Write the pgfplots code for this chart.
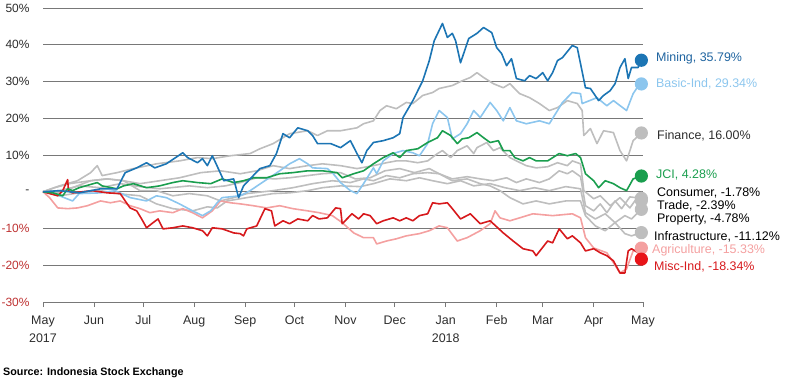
\documentclass[border=0pt]{standalone}
\usepackage{pgfplots}
\pgfplotsset{compat=1.18}
\usepackage{fontspec}
\setmainfont{Liberation Sans}
\definecolor{cMining}{RGB}{28,117,180}
\definecolor{cMiningT}{RGB}{31,100,160}
\definecolor{cBasic}{RGB}{140,198,238}
\definecolor{cGray}{RGB}{190,190,190}
\definecolor{cJCI}{RGB}{26,158,78}
\definecolor{cAgri}{RGB}{244,160,160}
\definecolor{cMisc}{RGB}{215,25,28}
\definecolor{cMiscDot}{RGB}{232,20,25}
\definecolor{cNeg}{RGB}{190,50,50}
\definecolor{cTxt}{RGB}{45,45,45}
\definecolor{cGrid}{RGB}{120,120,120}
\begin{document}
\begin{tikzpicture}
\path[use as bounding box] (0,0) rectangle (787bp,379bp);
\begin{axis}[
  at={(43bp,77bp)}, anchor=south west,
  scale only axis, width=600bp, height=294bp,
  xmin=0, xmax=365, ymin=-30, ymax=50,
  enlargelimits=false, clip=false,
  axis x line*=bottom, axis y line*=left,
  axis line style={-},
  x axis line style={draw=cGrid, line width=0.7bp},
  y axis line style={draw=none},
  ytick={-30,-20,-10,0,10,20,30,40,50},
  yticklabels={\textcolor{cNeg}{-30\%},\textcolor{cNeg}{-20\%},\textcolor{cNeg}{-10\%},-,10\%,20\%,30\%,40\%,50\%},
  ytick style={draw=none},
  ymajorgrids, grid style={draw=cGrid, line width=0.6bp},
  xtick={0,31,61,92,123,153,184,214,245,276,304,335,365},
  xticklabels={{May\\2017},Jun,Jul,Aug,Sep,Oct,Nov,Dec,{Jan\\2018},Feb,Mar,Apr,May},
  xtick style={draw=cGrid, line width=0.7bp},
  tick align=outside, major tick length=5bp,
  tick label style={font=\fontsize{12.5}{18}\selectfont, text=cTxt},
  xticklabel style={align=center, yshift=-5bp},
  yticklabel style={xshift=-5bp, font=\fontsize{12}{14}\selectfont},
  every axis plot/.append style={line width=1.6bp, line join=round, no markers},
]
% Gray sectors
\addplot[cGray] coordinates {(0,0)(7,1.1)(16,2.2)(29,3)(39,3.5)(49,3)(59,2.2)(71,3)(83,3.8)(96,5.2)(108,5.7)(120,4.9)(130,5.7)(140,7.1)(150,6.3)(161,7.1)(170,7.6)(181,7.1)(191,6.3)(201,7.1)(209,7.9)(215,8.4)(221,8.4)(228,7.9)(234,8.4)(240,10.4)(243,11.2)(248,9.3)(252,11.2)(258,12.5)(262,10.4)(264,12)(270,13.4)(274,11.2)(278,12)(284,9.3)(288,8.4)(294,7.1)(300,6.5)(307,6.8)(313,7.9)(319,7.1)(322,8.4)(327,7.6)(329,0.3)(335,-1.9)(339,-1.1)(345,-3.8)(351,-1.6)(357,-4.4)(361,-1.9)(364,-2.39)};
\addplot[cGray] coordinates {(0,0)(10,-0.3)(18,1.1)(29,3)(39,3.5)(49,3)(59,0.3)(69,0.3)(79,-1.1)(89,-0.5)(100,-1.1)(108,-2.5)(116,-1.6)(124,-0.5)(140,0.3)(152,1.1)(164,2.2)(176,3)(187,2.5)(195,3.5)(201,3)(209,4.4)(217,3.8)(225,4.9)(234,5.2)(241,4.9)(249,3.5)(258,4.1)(266,3.5)(274,3)(282,3.8)(288,2.5)(294,3.5)(302,2.5)(308,3.5)(314,5.7)(319,4.9)(322,5.7)(327,4.1)(330,-3.8)(335,-5.2)(339,-3.3)(343,-5.7)(348,-2.5)(352,-4.6)(357,-1.4)(364,-1.78)};
\addplot[cGray] coordinates {(0,0)(10,-1.1)(22,-0.3)(35,0.3)(45,-0.5)(59,-1.1)(69,-3.3)(79,-4.6)(91,-5.2)(100,-4.1)(106,-4.4)(112,-2.5)(124,-1.6)(140,-0.5)(150,-0.3)(161,0.3)(170,1.1)(181,1.6)(193,1.4)(201,2.2)(211,3.5)(221,3)(229,3.8)(237,3)(246,2.2)(254,3)(262,1.6)(272,2.2)(281,1.1)(290,0.3)(299,1.1)(308,0.3)(318,1.4)(327,0.8)(330,-5.7)(336,-7.4)(342,-6)(348,-8.4)(354,-6.5)(358,-7.4)(364,-4.78)};
\addplot[cGray] coordinates {(0,0)(10,0.3)(22,1.6)(35,1.1)(47,2.2)(59,1.4)(71,0.8)(89,1.6)(100,1.1)(111,1.6)(120,2.5)(130,3.8)(141,3.5)(150,3.8)(161,4.4)(170,4.9)(181,5.2)(190,3.5)(199,3.8)(208,5.7)(217,6.3)(226,5.2)(235,6.3)(241,4.9)(249,3)(258,3.5)(266,2.2)(272,1.6)(278,0.3)(284,-1.6)(292,-3.3)(300,-2.5)(308,-3.3)(318,-2.5)(327,-2.5)(330,-6.5)(336,-9.3)(342,-10.6)(348,-8.4)(354,-11.4)(358,-12)(364,-11.12)};
\addplot[cGray] coordinates {(0,0)(10,1.6)(21,3)(29,5.2)(33,7.1)(36,4.4)(45,5.2)(55,6.3)(69,7.6)(83,8.4)(94,9.3)(103,9)(114,9.8)(126,10.4)(132,11.7)(140,13.1)(150,15.8)(161,16.6)(167,15.3)(173,16.6)(181,16.6)(191,17.4)(195,18.5)(201,19.3)(205,22.1)(209,23.4)(215,22.6)(221,24.3)(225,24)(231,26.2)(237,27)(241,28.1)(249,28.9)(255,30.2)(260,31.1)(264,32.4)(268,31.1)(274,29.4)(280,28.3)(284,29.4)(290,26.7)(296,25.6)(302,24)(308,22.1)(313,22.9)(319,24.8)(325,24)(328,22.1)(329,15.3)(333,17.2)(337,13.1)(341,16.6)(347,16.1)(351,11.2)(355,8.4)(359,13.9)(364,16)};
% Agriculture
\addplot[cAgri] coordinates {(0,0)(4,-1.6)(9,-4.4)(15,-4.6)(21,-4.4)(27,-3.8)(35,-2.5)(41,-3)(47,-2.5)(53,-3.8)(59,-4.6)(65,-5.7)(71,-5.2)(79,-5.7)(85,-4.6)(91,-5.7)(97,-7.1)(103,-5.2)(108,-2.5)(114,-3)(120,-3.3)(128,-3.8)(136,-4.4)(144,-3.8)(152,-4.6)(161,-5.2)(168,-5.7)(176,-6.5)(182,-8.4)(189,-11.2)(195,-12.5)(201,-12.5)(203,-14.2)(209,-13.4)(215,-12.8)(221,-12)(229,-11.4)(235,-10.6)(241,-9.3)(246,-9.8)(252,-13.4)(258,-12.5)(266,-10.6)(272,-8.7)(275,-5.2)(278,-7.1)(284,-7.9)(290,-7.1)(298,-6)(310,-6.5)(322,-6)(327,-7.1)(330,-12.5)(335,-15.3)(343,-16.6)(347,-19.3)(351,-22.1)(355,-21)(359,-16.1)(364,-15.33)};
% Basic-Ind
\addplot[cBasic] coordinates {(0,0)(7,-0.5)(10,-1.1)(18,-2.5)(22,-0.5)(35,-0.3)(44,0.3)(53,-1.6)(63,-2.5)(69,-1.1)(75,-1.6)(83,-3.3)(91,-5.2)(97,-6.5)(102,-5.2)(106,-3)(109,-1.6)(120,-1.1)(126,0.3)(135,3)(144,5.7)(150,7.6)(156,9)(161,7.6)(164,6.5)(173,6.3)(176,5.2)(181,2.5)(187,0.3)(191,-0.5)(195,2.2)(201,6.5)(203,4.9)(207,8.4)(213,10.4)(219,11.2)(225,10.6)(229,9.8)(234,13.1)(237,18.5)(241,22.1)(246,20.2)(249,14.4)(254,15.8)(258,18.5)(262,22.1)(266,20.2)(272,24.3)(276,22.1)(280,19.3)(284,22.9)(288,19.3)(294,18.5)(302,19.3)(308,18.5)(313,22.1)(316,24.3)(322,27)(327,26.7)(328,24)(337,25.6)(343,23.4)(347,24.8)(355,22.1)(359,26.7)(363,29.4)(364,29.34)};
% Misc-Ind
\addplot[cMisc] coordinates {(0,0)(9,-1.1)(12,0.3)(15,3.3)(15.5,0.3)(18,-0.3)(30,0.3)(39,-0.3)(47,-0.5)(50,-2.5)(53,-4.4)(57,-5.2)(60,-7.4)(63,-9.8)(67,-8.4)(70,-7.4)(73,-10.1)(79,-9.8)(85,-9.3)(91,-9.8)(97,-10.6)(100,-12)(103,-9.8)(109,-10.1)(116,-11.2)(120,-11.4)(122,-12)(124,-10.1)(130,-9.3)(135,-4.6)(139,-5.2)(141,-9.3)(146,-7.9)(150,-8.7)(155,-7.4)(161,-7.9)(164,-6.5)(168,-7.4)(173,-7.1)(178,-4.4)(181,-4.6)(182,-8.7)(188,-6)(192,-7.4)(195,-6)(199,-6.5)(203,-8.7)(207,-7.9)(213,-7.1)(217,-7.9)(221,-7.1)(225,-7.9)(229,-6.5)(234,-6)(237,-3)(241,-3.3)(246,-3)(249,-4.6)(254,-7.4)(260,-6)(266,-8.7)(272,-7.9)(280,-11.2)(286,-13.4)(292,-15.5)(298,-16.1)(300,-17.4)(307,-13.4)(310,-13.9)(314,-10.1)(319,-12.8)(322,-12)(327,-13.9)(330,-16.1)(335,-15.5)(339,-16.6)(343,-17.4)(347,-18.8)(351,-22.1)(354,-22.1)(356,-16.1)(358,-15.5)(362,-16.6)(364,-18.34)};
% JCI
\addplot[cJCI] coordinates {(0,0)(6,-0.3)(12,-1.1)(15,0.8)(18,0.3)(22,1.1)(33,2.5)(36,1.6)(45,0.8)(49,1.6)(55,2.2)(63,1.1)(71,1.6)(79,2.5)(85,3)(94,2.5)(102,2.2)(109,3.5)(116,2.5)(122,3)(128,3.8)(136,3.8)(144,4.9)(152,5.2)(161,5.7)(170,5.7)(179,5.2)(182,3.8)(189,4.9)(195,5.7)(201,7.6)(207,9.3)(213,10.6)(217,9.3)(221,11.2)(228,11.7)(234,13.4)(240,14.7)(243,16.6)(248,15.3)(252,13.1)(255,14.4)(259,14.7)(264,16.1)(268,14.7)(272,13.4)(277,13.9)(280,11.2)(284,11.2)(287,9.3)(292,8.4)(296,9.3)(300,8.4)(307,8.4)(314,10.4)(319,9.8)(324,10.4)(327,9.3)(330,4.9)(335,3)(338,1.1)(342,3)(347,2.2)(351,1.1)(355,0.3)(359,3.5)(364,4.28)};
% Mining
\addplot[cMining] coordinates {(0,0)(10,0.3)(22,-0.3)(35,0.8)(45,0.8)(50,5.2)(57,6.5)(63,7.9)(68,6.5)(75,7.6)(85,10.6)(88,9.3)(94,7.9)(97,9)(100,7.1)(103,9.8)(105,7.9)(110,3)(116,3.5)(119,-1.6)(122,1.6)(126,3.5)(132,6.3)(138,7.1)(142,10.4)(146,15.8)(150,14.7)(155,17.4)(161,16.6)(164,15.3)(167,13.1)(175,13.1)(181,12)(187,13.9)(191,10.4)(194,7.9)(197,11.2)(201,13.4)(207,13.9)(213,14.7)(217,15.8)(219,20.2)(225,24.8)(231,30.2)(235,35.7)(238,41.1)(243,45.8)(246,42)(249,43.1)(251,41.1)(254,35.1)(259,41.7)(264,43.1)(268,44.7)(273,43.3)(276,39.2)(279,37.6)(282,34.3)(285,36.2)(288,30.8)(293,30.2)(296,31.6)(300,30.8)(304,32.4)(307,30.2)(310,32.4)(313,35.7)(316,36.5)(322,39.8)(325,39.2)(330,28.3)(333,28.1)(338,24.8)(341,26.2)(345,27.5)(348,29.4)(351,33.8)(354,36.2)(356,30.8)(358,33.8)(362,33.8)(364,35.79)};
% End dots
\addplot[only marks, mark=*, mark size=5.8bp, cGray, mark options={draw=cGray, fill=cGray}] coordinates {(364,16)(364,-1.78)(364,-2.39)(364,-4.78)(364,-11.12)};
\addplot[only marks, mark=*, mark size=5.8bp, mark options={draw=cAgri, fill=cAgri}] coordinates {(364,-15.33)};
\addplot[only marks, mark=*, mark size=5.8bp, mark options={draw=cMiscDot, fill=cMiscDot}] coordinates {(364,-18.34)};
\addplot[only marks, mark=*, mark size=5.8bp, mark options={draw=cJCI, fill=cJCI}] coordinates {(364,4.28)};
\addplot[only marks, mark=*, mark size=5.8bp, mark options={draw=cBasic, fill=cBasic}] coordinates {(364,29.34)};
\addplot[only marks, mark=*, mark size=5.8bp, mark options={draw=cMining, fill=cMining}] coordinates {(364,35.79)};
% End labels
\begin{scope}[every node/.style={anchor=west, inner sep=0pt, font=\fontsize{12.5}{14}\selectfont}]
\node[text=cMiningT] at (axis cs:372.9,36.2) {Mining, 35.79\%};
\node[text=cBasic] at (axis cs:372.9,29.4) {Basic-Ind, 29.34\%};
\node[text=cTxt] at (axis cs:373.5,15.3) {Finance, 16.00\%};
\node[text=cJCI] at (axis cs:372.9,4.6) {JCI, 4.28\%};
\node[text=black] at (axis cs:373.5,-0.3) {Consumer, -1.78\%};
\node[text=black] at (axis cs:373.5,-3.8) {Trade, -2.39\%};
\node[text=black] at (axis cs:373.5,-7.6) {Property, -4.78\%};
\node[text=black] at (axis cs:371.7,-12.3) {Infrastructure, -11.12\%};
\node[text=cAgri] at (axis cs:370.5,-15.8) {Agriculture, -15.33\%};
\node[text=cMisc] at (axis cs:371.7,-20.4) {Misc-Ind, -18.34\%};
\end{scope}
\end{axis}
\node[anchor=base west, inner sep=0pt, font=\bfseries\fontsize{10.8}{12}\selectfont, text=black] at (3bp,4bp) {Source: Indonesia Stock Exchange};
\end{tikzpicture}
\end{document}
